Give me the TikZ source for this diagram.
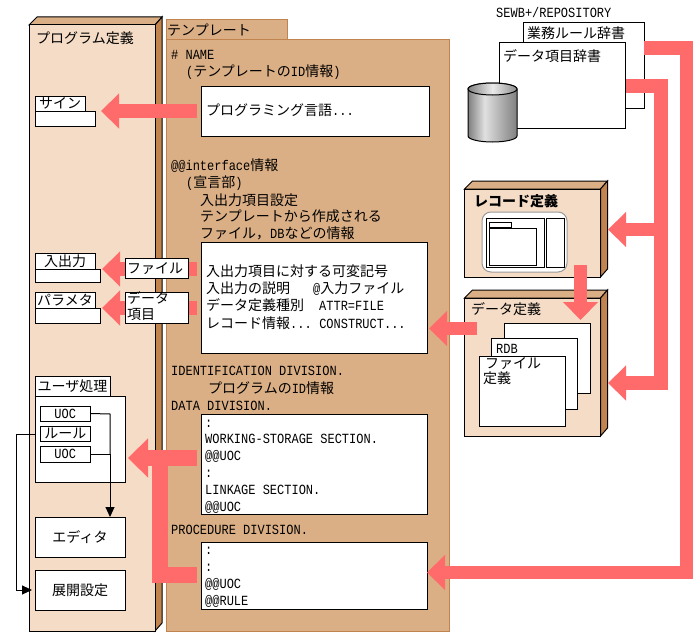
\documentclass[tikz,border=0pt]{standalone}
\usepackage{fontspec}
\usetikzlibrary{arrows.meta,calc}
\setmainfont{Noto Sans CJK JP}
\newfontfamily\monofam[FakeStretch=0.857]{Liberation Mono}
\newcommand\lat[1]{{\fontsize{14}{15}\selectfont\monofam #1}}
\definecolor{paper}{HTML}{F4DCC6}
\definecolor{tan}{HTML}{DBAF85}
\definecolor{umber}{HTML}{C1844F}
\definecolor{salmon}{HTML}{FF6B6B}
\pgfdeclarehorizontalshading{drum}{100bp}{rgb(0bp)=(.50,.50,.50); rgb(25bp)=(.50,.50,.50); rgb(42bp)=(.88,.88,.88); rgb(75bp)=(.50,.50,.50); rgb(100bp)=(.50,.50,.50)}
\tikzset{
  x=1pt,y=-1pt,
  rim/.style={draw=black,line width=1pt,line join=miter},
  wbox/.style={rim,fill=white,inner sep=0pt,outer sep=0pt},
  front/.style={rim,fill=paper,inner sep=0pt,outer sep=0pt},
  sheet/.style={draw=umber,line width=1pt,fill=tan,inner sep=0pt,outer sep=0pt},
  label/.style={anchor=west,inner sep=0pt,text height=12pt,text depth=1pt,font=\fontsize{14}{15}\selectfont},
  boxtext/.style={font=\fontsize{14}{15}\selectfont},
  pipe/.style={draw=salmon,line width=13.5pt,line join=miter},
  fat/.style={pipe,-{Triangle[length=18pt,width=34pt]}},
  heavy/.style={draw=salmon,line width=16pt,line join=miter},
  wire/.style={draw=black,line width=1pt},
  wirehead/.style={wire,-{Triangle[length=10pt,width=9pt]}}
}
% Rectangle node given by its corners: style, name, x1, y1, x2, y2, text
\newcommand\boxn[7]{%
  \pgfmathsetmacro\bw{#5-#3}\pgfmathsetmacro\bh{#6-#4}%
  \pgfmathsetmacro\bx{(#3+#5)/2}\pgfmathsetmacro\by{(#4+#6)/2}%
  \node[#1,boxtext,minimum width=\bw pt,minimum height=\bh pt] (#2) at (\bx,\by) {#7};}
% Box with a top face and a side face, 8 units deep
\newcommand\panel[5]{%
  \fill[tan,draw=black,line width=1pt] (#2,#3) -- ++(8,-8) -- (#4+7,#3-8) -- (#4,#3) -- cycle;
  \fill[umber,draw=black,line width=1pt] (#4,#3) -- (#4+7,#3-8) -- (#4+7,#5-8) -- (#4,#5) -- cycle;
  \boxn{front}{#1}{#2}{#3}{#4}{#5}{}}
% Free-standing line of text with a left edge and a vertical centre
\newcounter{lineno}
\newcommand\txt[3]{\stepcounter{lineno}\node[label] (line\thelineno) at (#1,#2) {#3};}
\begin{document}
\begin{tikzpicture}
\useasboundingbox (0,0) rectangle (698,634);

% Program definition column
\panel{progpanel}{29}{25}{155}{631}
\txt{36}{38}{プログラム定義}

% Template sheet
\boxn{sheet}{temptab}{166}{20}{287}{40}{}
\boxn{sheet}{tempsheet}{166}{40}{449}{631}{}
\txt{167}{30}{テンプレート}

% White boxes on the template
\boxn{wbox}{langbox}{201.5}{86}{429}{136}{}
\boxn{wbox}{iobox}{201}{242}{427}{353}{}
\boxn{wbox}{databox}{201}{414}{427}{514}{}
\boxn{wbox}{procbox}{201}{542}{427}{609}{}

% Template text
\txt{171}{54}{\lat{\# NAME}}
\txt{186}{71}{\lat{(}テンプレートの\lat{ID}情報\lat{)}}
\txt{206}{110}{プログラミング言語\lat{...}}
\txt{171}{165}{\lat{@@interface}情報}
\txt{186}{182}{\lat{(}宣言部\lat{)}}
\txt{200}{200}{入出力項目設定}
\txt{200}{216}{テンプレートから作成される}
\txt{200}{233}{ファイル，\lat{DB}などの情報}
\txt{206}{271}{入出力項目に対する可変記号}
\txt{206}{288}{入出力の説明\hspace*{23pt}\lat{@}入力ファイル}
\txt{206}{305}{データ定義種別\hspace*{15pt}\lat{ATTR=FILE}}
\txt{206}{323}{レコード情報\lat{...}\hspace*{7.5pt}\lat{CONSTRUCT...}}
\txt{171}{370}{\lat{IDENTIFICATION DIVISION.}}
\txt{208}{388}{プログラムの\lat{ID}情報}
\txt{171}{405}{\lat{DATA DIVISION.}}
\txt{205}{422}{\lat{:}}
\txt{205}{438}{\lat{WORKING-STORAGE SECTION.}}
\txt{205}{455}{\lat{@@UOC}}
\txt{205}{472}{\lat{:}}
\txt{205}{489}{\lat{LINKAGE SECTION.}}
\txt{205}{506}{\lat{@@UOC}}
\txt{171}{529}{\lat{PROCEDURE DIVISION.}}
\txt{205}{549}{\lat{:}}
\txt{205}{566}{\lat{:}}
\txt{205}{583}{\lat{@@UOC}}
\txt{205}{600}{\lat{@@RULE}}

% Items inside the program definition
\boxn{wbox}{signbody}{35}{111}{95}{126}{}
\boxn{wbox}{signtab}{35}{96}{85}{111}{サイン}
\boxn{wbox}{iobody}{35}{269}{100.5}{282}{}
\boxn{wbox}{iotab}{35}{253}{95}{269}{入出力}
\boxn{wbox}{parambody}{35}{308}{100.5}{323.5}{}
\boxn{wbox}{paramtab}{35}{292}{95}{308}{パラメタ}
\boxn{wbox}{userbody}{35}{396}{125}{482}{}
\boxn{wbox}{usertab}{35}{376}{110}{396}{ユーザ処理}
\boxn{wbox}{uocone}{40}{406}{90.5}{421}{\lat{UOC}}
\boxn{wbox}{rulebox}{40}{426}{90.5}{441.5}{ルール}
\boxn{wbox}{uoctwo}{40}{446}{90.5}{462}{\lat{UOC}}
\boxn{wbox}{editor}{35}{517}{125}{557}{エディタ}
\boxn{wbox}{expand}{35}{570}{125}{610}{展開設定}

% Thin connectors
\coordinate (trunk) at (110,414);
\draw[wire] (uocone.east) -- (trunk) -- (trunk |- uoctwo.east);
\draw[wire] (uoctwo.east) -- (trunk |- uoctwo.east);
\draw[wirehead] (trunk |- uoctwo.east) -- (trunk |- editor.north);
\coordinate (loop) at (16.5,434);
\draw[wirehead,shorten >=3pt] (userbody.west |- loop) -- (loop) -- (loop |- expand.west) -- (expand.west);

% Repository
\boxn{wbox}{rulesdict}{523}{23}{644}{108}{}
\boxn{wbox}{itemdict}{499}{43}{625.5}{128}{}
\txt{496}{12}{\lat{SEWB+/REPOSITORY}}
\txt{527}{33}{業務ルール辞書}
\txt{503}{56}{データ項目辞書}
\path[shade,shading=drum,draw=black,line width=1pt]
  (468,89) -- (468,136) arc[start angle=180,end angle=360,x radius=24.5,y radius=-6] -- (517,89)
  arc[start angle=0,end angle=180,x radius=24.5,y radius=-6] -- cycle;
\path[shade,left color=black!50,right color=black!45,middle color=black!8,draw=black,line width=1pt]
  (492.5,89) ellipse[x radius=24.5,y radius=6];

% Record definition panel
\panel{recpanel}{464.5}{189}{600.5}{277}
\txt{474}{201}{\textbf{レコード定義}}
\node[draw=black!40,line width=1pt,fill=white,rounded corners=9pt,minimum width=85pt,minimum height=60pt,inner sep=0pt] (screen) at (524.5,242) {};
\boxn{wbox}{winleft}{486}{218}{544.5}{267}{}
\boxn{wbox}{winright}{546.5}{218}{564}{267.5}{}
\boxn{wbox}{wintab}{489}{222}{511.5}{227.5}{}
\boxn{wbox}{winpage}{489}{228.5}{536.5}{265.5}{}

% Data definition panel
\panel{defpanel}{464.5}{298}{600.5}{436}
\txt{471}{309}{データ定義}
\boxn{wbox}{sheetback}{504}{323}{590.5}{393}{}
\boxn{wbox}{sheetrdb}{491.5}{338}{577.5}{409.5}{}
\boxn{wbox}{sheetfile}{479.5}{356}{565.5}{426.5}{}
\txt{496}{348}{\lat{RDB}}
\txt{485}{363}{ファイル}
\txt{483}{378}{定義}

% Thick flows
\draw[fat] ([xshift=-4.5pt]langbox.west) -- ([xshift=6pt]signbody.north east);
\draw[fat] ([xshift=-4pt]iobody.north east -| iobox.west) -- ([xshift=1.5pt]iobody.north east);
\draw[fat] ([xshift=-4pt]parambody.north east -| iobox.west) -- ([xshift=1.5pt]parambody.north east);
\coordinate (defout) at (477,328.5);
\draw[fat] (defout) -- ([xshift=2pt]defout -| iobox.east);
\coordinate (recout) at (580.5,265);
\draw[fat] (recout) -- (580.5,320);
% Feeds from the repository
\coordinate (rulesrun) at (686.5,48);
\coordinate (rulesend) at (686.5,572.5);
\draw[fat] (rulesdict.east |- rulesrun) -- (rulesrun) -- (rulesend) -- (procbox.east |- rulesend);
\coordinate (itemrun) at (661,86);
\coordinate (itemend) at (661,383);
\coordinate (itemtap) at (661,229.5);
\draw[fat] (itemdict.east |- itemrun) -- (itemrun) -- (itemend) -- ([xshift=7.5pt]defpanel.east |- itemend);
\draw[fat] (itemtap) -- ([xshift=7.5pt]recpanel.east |- itemtap);
% Feed from the data and procedure boxes into user processing
\coordinate (userin) at (159.5,458);
\coordinate (userfeed) at (159.5,574.5);
\draw[heavy] ([xshift=-4pt]procbox.west |- userfeed) -- (userfeed) -- (userin);
\draw[heavy,-{Triangle[length=20pt,width=38pt]}] ([xshift=-4pt]databox.west |- userin) -- ([xshift=3pt]userbody.east |- userin);

% Boxes sitting on top of the flows
\boxn{wbox}{filebox}{125.5}{258}{188.5}{278}{}
\boxn{wbox}{itembox}{125.5}{292}{188.5}{323}{}
\txt{127}{268}{ファイル}
\txt{127}{298}{データ}
\txt{127}{314}{項目}
\end{tikzpicture}
\end{document}
